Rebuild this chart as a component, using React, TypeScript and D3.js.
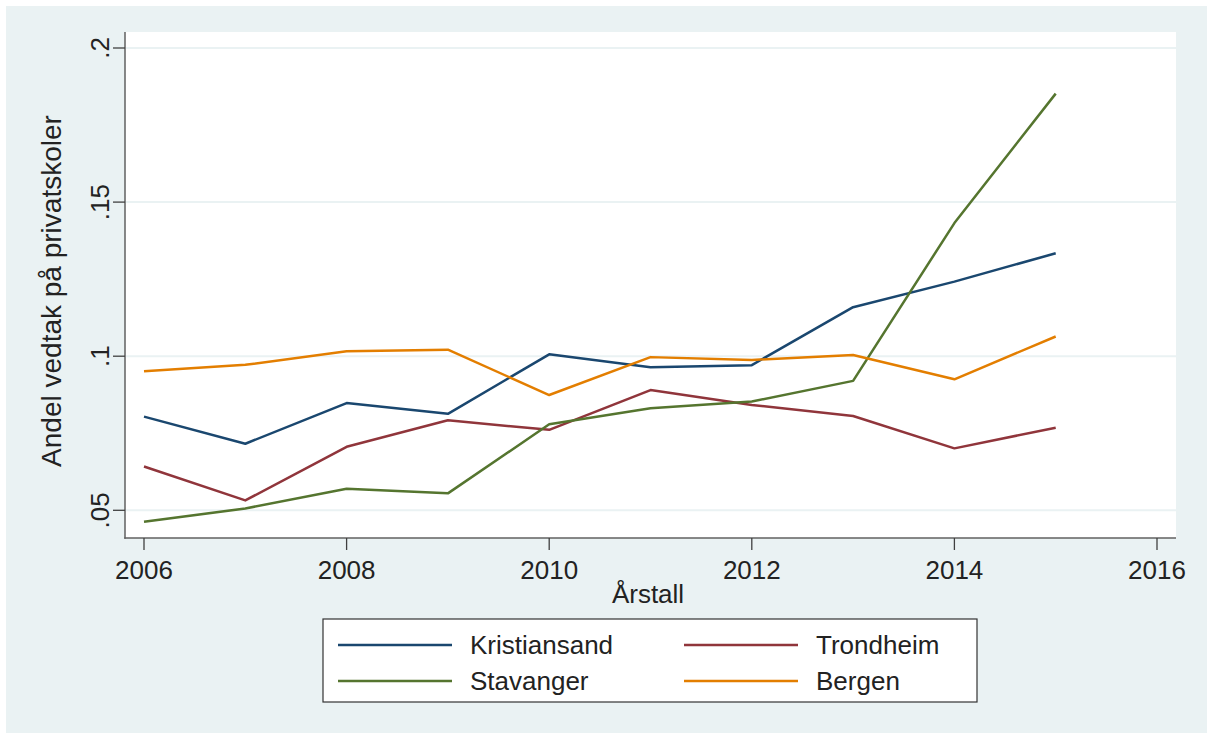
import React from "react";
import * as d3 from "d3";

const years = [2006, 2007, 2008, 2009, 2010, 2011, 2012, 2013, 2014, 2015];
const kristiansand = [0.0804, 0.0716, 0.0848, 0.0813, 0.1006, 0.0964, 0.0971, 0.1159, 0.1242, 0.1334];
const trondheim = [0.0642, 0.0532, 0.0706, 0.0792, 0.0761, 0.089, 0.0842, 0.0806, 0.0701, 0.0768];
const stavanger = [0.0463, 0.0506, 0.057, 0.0555, 0.0779, 0.0831, 0.0853, 0.092, 0.1432, 0.1852];
const bergen = [0.0951, 0.0972, 0.1016, 0.1021, 0.0874, 0.0997, 0.0988, 0.1004, 0.0925, 0.1064];
const xTicks = [2006, 2008, 2010, 2012, 2014, 2016];
const yTicks = [0.05, 0.1, 0.15, 0.2];
const yTickLabels = [".05", ".1", ".15", ".2"];
const seriesNames = ["Kristiansand", "Trondheim", "Stavanger", "Bergen"];
const seriesColors = ["#1a476f", "#90353b", "#55752f", "#e37e00"];

const W = 1207;
const H = 733;
const BG = "#eaf2f3";
const FONT = "'Liberation Sans', Arial, sans-serif";

export default function App() {
  const plotL = 125, plotR = 1176, plotT = 32, plotB = 538;
  const x = d3.scaleLinear().domain([2006, 2016]).range([144, 1157]);
  const y = d3.scaleLinear().domain([0.05, 0.2]).range([510.3, 48]);
  const allSeries = [kristiansand, trondheim, stavanger, bergen];
  const line = d3
    .line<number>()
    .x((_, i) => x(years[i]))
    .y((d) => y(d));

  const legendItems = [
    { name: seriesNames[0], color: seriesColors[0], col: 0, row: 0 },
    { name: seriesNames[1], color: seriesColors[1], col: 1, row: 0 },
    { name: seriesNames[2], color: seriesColors[2], col: 0, row: 1 },
    { name: seriesNames[3], color: seriesColors[3], col: 1, row: 1 },
  ];

  return (
    <svg
      width={W}
      height={H}
      style={{ position: "absolute", left: 0, top: 0 }}
      fontFamily={FONT}
    >
      <rect x={0} y={0} width={W} height={H} fill="#ffffff" />
      <rect x={6} y={6} width={W - 6} height={H - 6} fill={BG} />
      <rect x={plotL} y={plotT} width={plotR - plotL} height={plotB - plotT} fill="#ffffff" />
      {yTicks.map((t) => (
        <line key={"g" + t} x1={plotL} x2={plotR} y1={y(t)} y2={y(t)} stroke={BG} strokeWidth={2} />
      ))}
      {allSeries.map((s, i) => (
        <path key={seriesNames[i]} d={line(s) || ""} fill="none" stroke={seriesColors[i]} strokeWidth={2.5} strokeLinejoin="round" />
      ))}
      <line x1={plotL} x2={plotL} y1={plotT} y2={plotB + 0.75} stroke="#606060" strokeWidth={1.5} />
      <line x1={plotL - 0.75} x2={plotR} y1={plotB} y2={plotB} stroke="#606060" strokeWidth={1.5} />
      {yTicks.map((t, i) => (
        <g key={"yt" + t}>
          <line x1={plotL - 12} x2={plotL} y1={y(t)} y2={y(t)} stroke="#404040" strokeWidth={1.3} />
          <text
            transform={`translate(109,${y(t)}) rotate(-90)`}
            textAnchor="middle"
            fontSize={26}
            fill="#222"
          >
            {yTickLabels[i]}
          </text>
        </g>
      ))}
      {xTicks.map((t) => (
        <g key={"xt" + t}>
          <line x1={x(t)} x2={x(t)} y1={plotB} y2={plotB + 12} stroke="#404040" strokeWidth={1.3} />
          <text x={x(t)} y={579} textAnchor="middle" fontSize={26} fill="#222">
            {t}
          </text>
        </g>
      ))}
      <text x={648} y={603} textAnchor="middle" fontSize={26} fill="#222">
        Årstall
      </text>
      <text
        transform={`translate(61,${(plotT + plotB) / 2 + 6}) rotate(-90)`}
        textAnchor="middle"
        fontSize={28}
        fill="#222"
      >
        Andel vedtak på privatskoler
      </text>
      <rect x={323} y={619} width={654} height={83} fill="#ffffff" stroke="#333" strokeWidth={1.2} />
      {legendItems.map((it) => {
        const lx = it.col === 0 ? 338 : 684;
        const ly = it.row === 0 ? 645 : 681;
        return (
          <g key={"lg" + it.name}>
            <line x1={lx} x2={lx + 114} y1={ly} y2={ly} stroke={it.color} strokeWidth={2.5} />
            <text x={lx + 132} y={ly + 9} fontSize={26} fill="#222">
              {it.name}
            </text>
          </g>
        );
      })}
    </svg>
  );
}
